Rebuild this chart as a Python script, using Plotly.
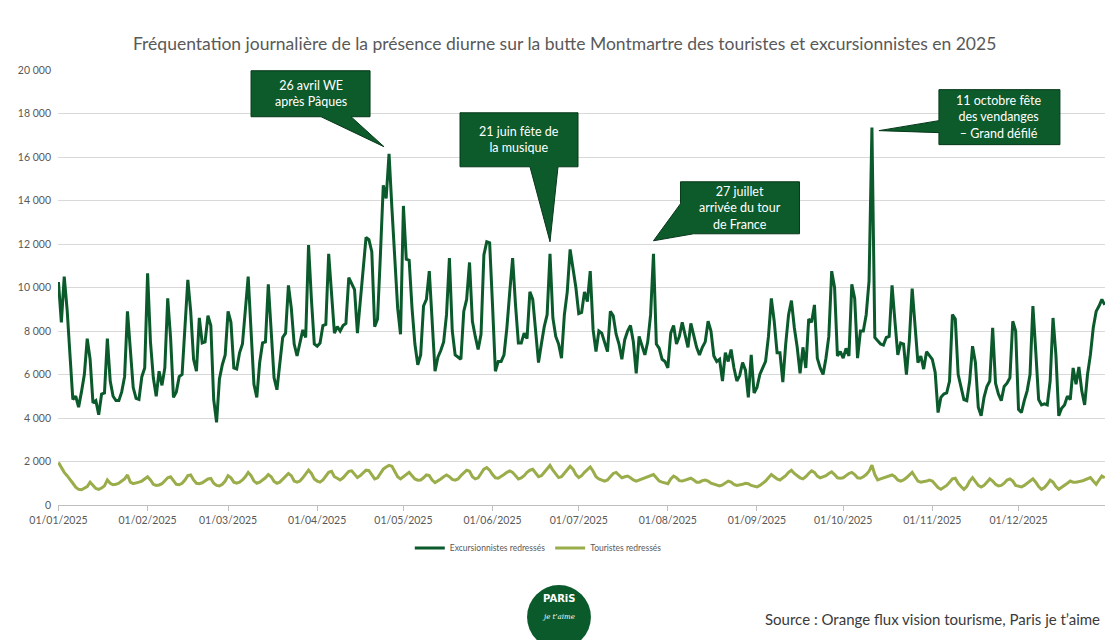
import plotly.graph_objects as go
import pandas as pd

# ---------------- data ----------------
dates = pd.date_range("2025-01-01", "2025-12-31", freq="D")

exc_jan = [10250, 8400, 10500, 9000, 6900, 4850, 5000, 4500, 5200, 6000, 7650, 6700, 4700, 4800, 4150, 5100,
           5150, 7650, 5700, 5000, 4800, 4800, 5200, 5900, 8900, 6900, 5400, 4900, 4850, 5900, 6300]
exc_feb = [10650, 7500, 5850, 5000, 6150, 5500, 6300, 9500, 7700, 4950, 5200, 5900, 6000, 8000, 10350, 8900,
           6700, 6150, 8600, 7450, 7500, 8700, 8250, 4850, 3800, 5800, 6450, 6900]
exc_mar = [8900, 8400, 6300, 6250, 7000, 7400, 9000, 10500, 8000, 5550, 4950, 6550, 7450, 7500, 10150, 8150,
           5850, 5300, 6550, 7700, 7900, 10100, 9050, 7400, 6850, 7400, 8050, 7700, 11950, 9450, 7400]
exc_apr = [7300, 7450, 8250, 8300, 11550, 9600, 7900, 8200, 8000, 8250, 8350, 10450, 10200, 9900, 7900, 9350,
           11100, 12300, 12200, 11650, 8200, 8550, 11500, 14700, 14100, 16150, 13650, 11350, 9050, 7850]
exc_may = [13750, 11300, 11250, 9050, 7400, 6450, 6900, 9150, 9450, 10750, 8600, 6150, 6800, 7100, 7500, 8750,
           11350, 8000, 6900, 6800, 6700, 8900, 9450, 11150, 8450, 7750, 7150, 7850, 11500, 12100, 12050]
exc_jun = [9200, 6150, 6600, 6600, 6900, 8150, 9800, 11350, 9200, 7450, 7450, 7900, 7650, 9800, 9450, 8000,
           6550, 7400, 8200, 8750, 11550, 8600, 7750, 7400, 6750, 8750, 9800, 11750, 10900, 10000]
exc_jul = [8800, 8850, 9800, 9350, 10750, 8050, 7050, 8000, 7900, 7500, 7050, 8900, 8700, 7850, 7400, 6700,
           7600, 8000, 8250, 7500, 6050, 7750, 7300, 6900, 7500, 8750, 11550, 7400, 7200, 6700, 6600]
exc_aug = [6300, 7900, 8250, 7400, 7750, 8400, 7850, 7250, 8350, 7850, 7250, 6900, 7250, 7500, 8450, 8000,
           6850, 6600, 6700, 5700, 7000, 6600, 7150, 6300, 5700, 5950, 6550, 6200, 4950, 6900, 5150]
exc_sep = [5400, 6000, 6300, 6600, 7750, 9500, 8450, 7000, 7000, 5650, 7400, 8750, 9400, 8150, 7250, 6050,
           7250, 6300, 8550, 8400, 9200, 6750, 6300, 6000, 6750, 7750, 10750, 10000, 6850, 7050]
exc_oct = [6750, 7200, 6850, 10150, 9500, 6750, 8000, 8000, 8750, 10300, 17350, 7700, 7550, 7400, 7350, 7700,
           7750, 10100, 8450, 6900, 7450, 7400, 6000, 7550, 9950, 8150, 6550, 6850, 6250, 7050, 6850]
exc_nov = [6700, 6100, 4250, 4950, 5100, 5150, 5700, 8750, 8550, 6000, 5400, 4850, 4800, 5700, 7300, 6550,
           4500, 4100, 4950, 5450, 5700, 8150, 5600, 5100, 4800, 5450, 5600, 5850, 8450, 8000]
exc_dec = [4400, 4250, 4800, 5250, 6000, 9150, 7050, 4850, 4600, 4650, 4600, 5700, 8600, 6900, 4100, 4450,
           4600, 5000, 4850, 6300, 5550, 6350, 5250, 4600, 6000, 6900, 8150, 8900, 9150, 9450, 9200]

tou_jan = [1950, 1700, 1500, 1350, 1200, 1000, 820, 720, 700, 760, 850, 1050, 880, 760, 720, 780,
           880, 1150, 1000, 930, 950, 1000, 1100, 1200, 1380, 1050, 980, 1000, 1050, 1100, 1200]
tou_feb = [1300, 1150, 950, 900, 920, 980, 1100, 1250, 1300, 1100, 950, 930, 1000, 1150, 1350, 1380,
           1150, 1000, 980, 1020, 1100, 1200, 1220, 1000, 900, 880, 950, 1100]
tou_mar = [1350, 1250, 1050, 1000, 1050, 1150, 1300, 1500, 1350, 1100, 1000, 1050, 1150, 1250, 1400, 1300,
           1080, 1000, 1050, 1200, 1300, 1450, 1350, 1100, 1050, 1100, 1250, 1400, 1600, 1450, 1200]
tou_apr = [1100, 1050, 1150, 1300, 1500, 1550, 1300, 1230, 1150, 1250, 1400, 1550, 1570, 1400, 1260, 1350,
           1500, 1600, 1580, 1400, 1200, 1250, 1450, 1650, 1750, 1820, 1780, 1500, 1300, 1200]
tou_may = [1300, 1400, 1500, 1350, 1200, 1140, 1150, 1250, 1380, 1350, 1150, 1030, 1100, 1200, 1300, 1380,
           1300, 1180, 1140, 1200, 1350, 1500, 1600, 1550, 1300, 1200, 1250, 1450, 1650, 1720, 1600]
tou_jun = [1400, 1250, 1230, 1300, 1400, 1500, 1570, 1500, 1350, 1200, 1250, 1350, 1500, 1600, 1640, 1450,
           1300, 1350, 1500, 1650, 1820, 1600, 1400, 1260, 1300, 1450, 1650, 1780, 1650, 1400]
tou_jul = [1260, 1350, 1500, 1650, 1750, 1550, 1300, 1200, 1150, 1100, 1150, 1300, 1450, 1500, 1350, 1250,
           1300, 1330, 1250, 1150, 1100, 1150, 1200, 1250, 1300, 1350, 1400, 1250, 1100, 1050, 1000]
tou_aug = [980, 1200, 1330, 1250, 1120, 1100, 1150, 1200, 1230, 1150, 1050, 1050, 1120, 1150, 1100, 1000,
           950, 900, 880, 920, 1000, 1100, 1050, 950, 900, 920, 950, 1000, 980, 900, 850]
tou_sep = [830, 900, 1000, 1100, 1250, 1400, 1300, 1200, 1150, 1250, 1350, 1500, 1600, 1450, 1330, 1250,
           1200, 1300, 1450, 1570, 1500, 1330, 1250, 1300, 1350, 1450, 1520, 1400, 1250, 1230]
tou_oct = [1250, 1350, 1450, 1500, 1400, 1250, 1230, 1300, 1400, 1550, 1830, 1400, 1150, 1200, 1250, 1300,
           1350, 1380, 1300, 1150, 1100, 1150, 1250, 1400, 1500, 1300, 1100, 1050, 1060, 1100, 1150]
tou_nov = [1100, 950, 800, 720, 800, 900, 1050, 1200, 1230, 1000, 850, 720, 850, 1100, 1260, 1100,
           900, 830, 900, 1050, 1200, 1100, 950, 880, 900, 1000, 1150, 1200, 1100, 900]
tou_dec = [850, 830, 900, 1000, 1100, 1200, 1050, 850, 720, 800, 950, 1140, 1050, 850, 720, 800,
           900, 1000, 1100, 1050, 1050, 1060, 1100, 1150, 1200, 1260, 1100, 950, 1150, 1330, 1250]

excursionnistes = (exc_jan + exc_feb + exc_mar + exc_apr + exc_may + exc_jun + exc_jul + exc_aug
                   + exc_sep + exc_oct + exc_nov + exc_dec)
touristes = (tou_jan + tou_feb + tou_mar + tou_apr + tou_may + tou_jun + tou_jul + tou_aug
             + tou_sep + tou_oct + tou_nov + tou_dec)
assert len(excursionnistes) == 365, len(excursionnistes)
assert len(touristes) == 365, len(touristes)

series_names = ["Excursionnistes redressés", "Touristes redressés"]
month_ticks = pd.date_range("2025-01-01", "2025-12-01", freq="MS")
y_ticks = list(range(0, 20001, 2000))

title_text = "Fréquentation journalière de la présence diurne sur la butte Montmartre des touristes et excursionnistes en 2025"
source_text = "Source : Orange flux vision tourisme, Paris je t’aime"

# callouts: event date (peak), label
events = [
    ("2025-04-26", "26 avril WE<br>après Pâques"),
    ("2025-06-21", "21 juin fête de<br>la musique"),
    ("2025-07-27", "27 juillet<br>arrivée du tour<br>de France"),
    ("2025-10-11", "11 octobre fête<br>des vendanges<br>– Grand défilé"),
]

# ---------------- styling ----------------
FONT = "Lato"
EXC_COLOR = "#0b5a2c"
TOU_COLOR = "#9aad4b"
BOX_FILL = "#0d5a2b"
BOX_LINE = "#06381a"
GRID = "#d9d9d9"
TXT = "#595959"

# callout geometry, in pixels relative to the peak point (y up)
callout_paths = [
    "M -138 83 L -19 83 L -19 37 L -38 37 L -5 7 L -68 37 L -138 37 Z",
    "M -90 141 L 28 141 L 28 87 L 8 87 L 0 12 L -20 87 L -90 87 Z",
    "M 27 72 L 146 72 L 146 20 L 40 20 L 0 13 L 27 50 Z",
    "M 67 38 L 188 38 L 188 -17 L 67 -17 L 67 -5 L 7 -3 L 67 7 Z",
]
callout_text_shift = [(-78, 60), (-31, 114), (87, 46), (127, 11)]

fig = go.Figure()
fig.add_trace(go.Scatter(x=dates, y=excursionnistes, mode="lines", name=series_names[0],
                         line=dict(color=EXC_COLOR, width=3), hoverinfo="skip"))
fig.add_trace(go.Scatter(x=dates, y=touristes, mode="lines", name=series_names[1],
                         line=dict(color=TOU_COLOR, width=3), hoverinfo="skip"))

exc_by_date = dict(zip(dates.strftime("%Y-%m-%d"), excursionnistes))
for (d, label), path, (dx, dy) in zip(events, callout_paths, callout_text_shift):
    v = exc_by_date[d]
    fig.add_shape(type="path", xref="x", yref="y", xsizemode="pixel", ysizemode="pixel",
                  xanchor=d, yanchor=v, path=path,
                  fillcolor=BOX_FILL, line=dict(color=BOX_LINE, width=1), layer="above")
    fig.add_annotation(x=d, y=v, xref="x", yref="y", xshift=dx, yshift=dy, text=label,
                       showarrow=False, align="center", xanchor="center", yanchor="middle",
                       font=dict(family=FONT, size=12.5, color="white"))

# logo
fig.add_shape(type="circle", xref="paper", yref="paper", x0=0.448, x1=0.509, y0=-0.184, y1=-0.331,
              fillcolor="#0a5a2b", line=dict(width=0), layer="above")
fig.add_annotation(xref="paper", yref="paper", x=0.4785, y=-0.233, text="<b>PARiS</b>", showarrow=False,
                   font=dict(family="DejaVu Sans", size=10, color="white"))
fig.add_annotation(xref="paper", yref="paper", x=0.4785, y=-0.272, text="<i>je t’aime</i>", showarrow=False,
                   font=dict(family="DejaVu Serif", size=7, color="white"))
# source (kept fully visible at the right edge)
fig.add_annotation(xref="paper", yref="paper", x=0.997, y=-0.262, xanchor="right", yanchor="middle",
                   text=source_text, showarrow=False, font=dict(family=FONT, size=15, color="#3a3a3a"))

fig.update_layout(
    width=1105, height=640,
    margin=dict(l=58, r=0, t=70, b=135),
    paper_bgcolor="white", plot_bgcolor="white",
    separators=", ",
    font=dict(family=FONT, color=TXT),
    title=dict(text=title_text, x=0.511, xanchor="center", y=0.931, yanchor="middle",
               font=dict(family=FONT, size=17.5, color=TXT)),
    showlegend=True,
    legend=dict(orientation="h", x=0.336, xanchor="left", y=-0.099, yanchor="middle",
                font=dict(family=FONT, size=8.5, color=TXT), itemwidth=30, tracegroupgap=0,
                bgcolor="rgba(0,0,0,0)"),
    xaxis=dict(type="date", range=["2024-12-31 20:00", "2025-12-31 02:00"],
               tickvals=month_ticks, tickformat="%d/%m/%Y",
               showgrid=False, showline=True, linecolor="#bfbfbf", linewidth=1,
               ticks="outside", ticklen=5, tickcolor="#bfbfbf",
               tickfont=dict(family=FONT, size=10.5, color=TXT), zeroline=False),
    yaxis=dict(range=[0, 20000], tickvals=y_ticks, tickformat=",d",
               showgrid=True, gridcolor=GRID, gridwidth=1, zeroline=False, showline=False,
               ticks="", ticklabelstandoff=6, tickfont=dict(family=FONT, size=10.5, color=TXT)),
)

fig.write_html("out.html", config={"displayModeBar": False},
               post_script="document.body.style.margin='0px';")
